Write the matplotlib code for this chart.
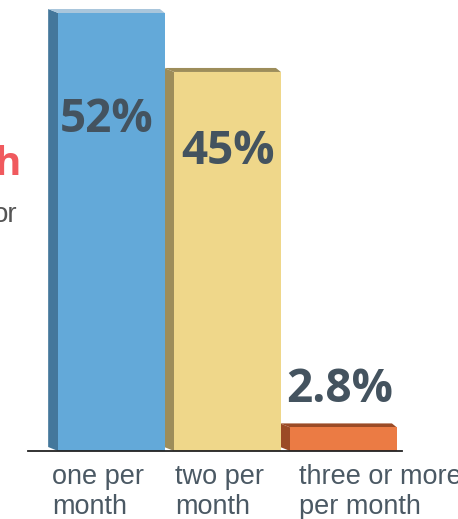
import matplotlib.pyplot as plt
from matplotlib.patches import Polygon

# data
categories = ['one per\nmonth', 'two per\nmonth', 'three or more\nper month']
values = [52, 45, 2.8]
value_labels = ['52%', '45%', '2.8%']

front_colors = ['#63a9d9', '#efd78a', '#eb7b44']
side_colors = ['#44779b', '#9d8d5a', '#9b4b26']
top_colors = ['#a9c6dc', '#9d8d5a', '#9b4b26']

W, H = 458, 519
fig = plt.figure(figsize=(W / 100, H / 100), dpi=100)
fig.patch.set_facecolor('white')

# axes placed in pixels: baseline at y=451, 52% at y=13
base_px, top_px = 451, 13
ax = fig.add_axes([28 / W, (H - base_px) / H, (402 - 28) / W, (base_px - top_px) / H])
ax.set_xlim(-0.72, 2.504)
ax.set_ylim(0, 52)
ax.axis('off')
ax.axhline(0, color='#222222', lw=1.3, xmin=0, xmax=1, zorder=5, clip_on=False)

bar_w = 0.92
dx = 10 / 116.0          # depth offset, x units
dy = 4 / (438 / 52.0)    # depth offset, y units

x = list(range(len(values)))
bars = ax.bar(x, values, width=bar_w, color=front_colors, zorder=3, clip_on=False)

for b, sc, tc in zip(bars, side_colors, top_colors):
    x0 = b.get_x()
    x1 = x0 + b.get_width()
    h = b.get_height()
    side = Polygon([(x0, 0), (x0, h), (x0 - dx, h + dy), (x0 - dx, dy)],
                   closed=True, facecolor=sc, edgecolor='none', zorder=2, clip_on=False)
    top = Polygon([(x0, h), (x1, h), (x1 - dx * 0.5, h + dy), (x0 - dx, h + dy)],
                  closed=True, facecolor=tc, edgecolor='none', zorder=2, clip_on=False)
    ax.add_patch(side)
    ax.add_patch(top)

# value labels (offsets from each bar centre)
label_dx = [-0.043, 0.0, -0.03]
label_y = [39.3, 35.5, 7.25]
for i, (lx, ly, t) in enumerate(zip(label_dx, label_y, value_labels)):
    ax.text(i + lx, ly, t, ha='center', va='center', fontsize=33, fontweight='bold',
            family=['Open Sans', 'DejaVu Sans'], color='#44535f', zorder=6)

# category labels below the axis
cat_dx = [-0.51, -0.45, -0.38]
for i, (cx, c) in enumerate(zip(cat_dx, categories)):
    ax.text(i + cx, -1.5, c, ha='left', va='top', fontsize=19.5,
            family=['Liberation Sans', 'DejaVu Sans'], color='#4b5964',
            linespacing=1.2, clip_on=False)

# cropped text at the left edge
fig.text(21 / W, 1 - 175 / H, 'h', ha='right', va='baseline', fontsize=29,
         fontweight='bold', family=['Open Sans', 'DejaVu Sans'], color='#f05a5e')
fig.text(18 / W, 1 - 222 / H, 'or', ha='right', va='baseline', fontsize=20,
         family=['Liberation Sans', 'DejaVu Sans'], color='#555555')

fig.savefig('out.png', dpi=100, facecolor='white')
